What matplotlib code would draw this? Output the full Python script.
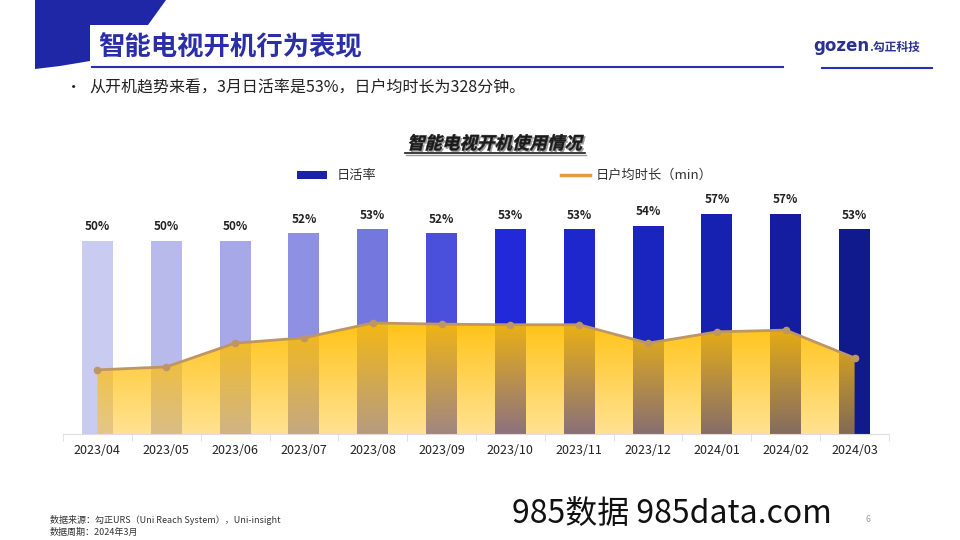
import numpy as np
import matplotlib
matplotlib.use("Agg")
import matplotlib.pyplot as plt
from matplotlib.patches import Polygon, Rectangle, PathPatch
from matplotlib.lines import Line2D
from matplotlib.textpath import TextPath
from matplotlib.font_manager import FontProperties
from matplotlib.transforms import Affine2D, IdentityTransform
from matplotlib.colors import to_rgb

plt.rcParams["font.family"] = ["Noto Sans CJK SC", "DejaVu Sans"]

# 数据
months = ["2023/04", "2023/05", "2023/06", "2023/07", "2023/08", "2023/09",
          "2023/10", "2023/11", "2023/12", "2024/01", "2024/02", "2024/03"]
active_rate = [50, 50, 50, 52, 53, 52, 53, 53, 54, 57, 57, 53]          # 日活率 %
avg_minutes = [308, 313, 353, 362, 387, 385, 384, 384, 353, 372, 375, 328]  # 日户均时长 min
bar_colors = ["#C9CBF0", "#B8BAEC", "#A6A8E8", "#8E91E3", "#7478DE", "#4A50DC",
              "#2229D9", "#1E27CC", "#1A24BF", "#1721B0", "#141DA0", "#111A8C"]

W, H = 960, 540
fig = plt.figure(figsize=(9.6, 5.4), dpi=100)
fig.patch.set_facecolor("white")

def fx(x):
    return x / W

def fy(y):
    return 1 - y / H

# 顶部装饰
blue = "#1F27A6"
shape = Polygon([(fx(35), fy(0)), (fx(166), fy(0)), (fx(148), fy(25)), (fx(90), fy(25)),
                 (fx(90), fy(61)), (fx(60), fy(66)), (fx(35), fy(69))],
                closed=True, transform=fig.transFigure, facecolor=blue, edgecolor="none")
fig.patches.append(shape)
fig.add_artist(Line2D([fx(92), fx(783)], [fy(67), fy(67)], color="#2530B0", lw=1.5))
fig.add_artist(Line2D([fx(822), fx(932)], [fy(68), fy(68)], color="#2530B0", lw=1.5))
fig.text(fx(98), fy(48), "智能电视开机行为表现", fontsize=19, fontweight="bold",
         color="#2A2FA8", va="center", ha="left")
fig.text(fx(869), fy(46), "gozen", fontsize=12, fontweight="bold", color="#2A3290",
         va="center", ha="right", family=["DejaVu Sans"])
fig.text(fx(869), fy(47), ".勾正科技", fontsize=8.5, fontweight="bold", color="#2A3290",
         va="center", ha="left")

fig.text(fx(66), fy(88), "•", fontsize=11, va="center", ha="left", color="#222222")
fig.text(fx(89), fy(88), "从开机趋势来看，3月日活率是53%，日户均时长为328分钟。",
         fontsize=11.5, va="center", ha="left", color="#222222")

# 图表标题（斜体 + 阴影 + 下划线）
fp = FontProperties(family="Noto Sans CJK SC", weight="bold")
title = "智能电视开机使用情况"
tp = TextPath((0, 0), title, size=17.5, prop=fp)
bb = tp.get_extents()
tx = 494 - bb.width / 2
ty = H - 149
for dx, dy, col in [(1.5, -1.5, "#9A9A9A"), (0, 0, "#1A1A1A")]:
    tr = Affine2D().skew_deg(14, 0).translate(tx + dx, ty + dy)
    fig.patches.append(PathPatch(tr.transform_path(tp), facecolor=col, edgecolor=col, lw=0.3,
                                 transform=IdentityTransform()))
fig.add_artist(Line2D([fx(tx - 2), fx(tx + bb.width + 4)], [fy(153), fy(153)], color="#1A1A1A", lw=1.2))
fig.add_artist(Line2D([fx(tx - 1), fx(tx + bb.width + 5)], [fy(154.5), fy(154.5)], color="#9A9A9A", lw=1.0))

# 图例
fig.patches.append(Rectangle((fx(297), fy(179)), fx(30), 8 / H, transform=fig.transFigure,
                             facecolor="#1A22A8", edgecolor="none"))
fig.text(fx(337), fy(175), "日活率", fontsize=9.5, va="center", ha="left", color="#333333")
fig.add_artist(Line2D([fx(561), fx(590)], [fy(175), fy(175)], color="#E39A3B", lw=2.5))
fig.text(fx(596), fy(175), "日户均时长（min）", fontsize=9.5, va="center", ha="left", color="#333333")

# 主坐标轴
base_y = 434
top_y = 150
ax = fig.add_axes([fx(63), fy(base_y), fx(889) - fx(63), (base_y - top_y) / H])
x = np.arange(len(months))
ax.set_xlim(-0.5, len(months) - 0.5)
ax.set_ylim(0, 57 * (base_y - top_y) / 220)
ax.bar(x, active_rate, width=0.45, color=bar_colors, zorder=2)
for xi, v in zip(x, active_rate):
    ax.text(xi, v + 2.0, f"{v}%", ha="center", va="bottom", fontsize=8.5,
            fontweight="bold", color="#222222")

for s in ["top", "right", "left"]:
    ax.spines[s].set_visible(False)
ax.spines["bottom"].set_color("#DDDDDD")
ax.set_yticks([])
ax.set_xticks(x)
ax.set_xticklabels(months, fontsize=9, color="#222222")
ax.set_xticks(np.arange(-0.5, len(months), 1), minor=True)
ax.tick_params(axis="x", which="major", length=0, pad=7)
ax.tick_params(axis="x", which="minor", length=5, color="#DDDDDD")

# 次坐标轴：时长
ax2 = ax.twinx()
ax2.set_ylim(200, 200 + (base_y - top_y) * 128 / 76)
ax2.set_xlim(ax.get_xlim())
ax2.axis("off")

poly = ax2.fill_between(x, avg_minutes, 200, color="none", lw=0)
ymax = max(avg_minutes)
n = 256
top_c = np.array(to_rgb("#FFBE00"))
bot_c = np.array(to_rgb("#FFC21A"))
t = np.linspace(0, 1, n)[:, None]
grad = np.zeros((n, 1, 4))
grad[:, 0, :3] = top_c * (1 - t) + bot_c * t
grad[:, 0, 3] = (0.92 * (1 - t) + 0.48 * t)[:, 0]
im = ax2.imshow(grad, extent=[x[0], x[-1], 200, ymax], aspect="auto",
                origin="upper", zorder=3)
im.set_clip_path(poly.get_paths()[0], transform=ax2.transData)
ax2.plot(x, avg_minutes, color="#BE9664", lw=2, marker="o", ms=4.5, zorder=4)
ax2.set_xlim(ax.get_xlim())

# 页脚
fig.text(fx(50), fy(520), "数据来源：勾正URS（Uni Reach System），Uni-insight",
         fontsize=6.5, va="center", ha="left", color="#333333")
fig.text(fx(50), fy(532), "数据周期：2024年3月", fontsize=6.5, va="center",
         ha="left", color="#333333")
fig.text(fx(866), fy(520), "6", fontsize=6, va="center", ha="left", color="#999999")
fig.text(fx(512), fy(514), "985数据 985data.com", fontsize=23, va="center",
         ha="left", color="#111111")

fig.savefig("out.png", dpi=100)
